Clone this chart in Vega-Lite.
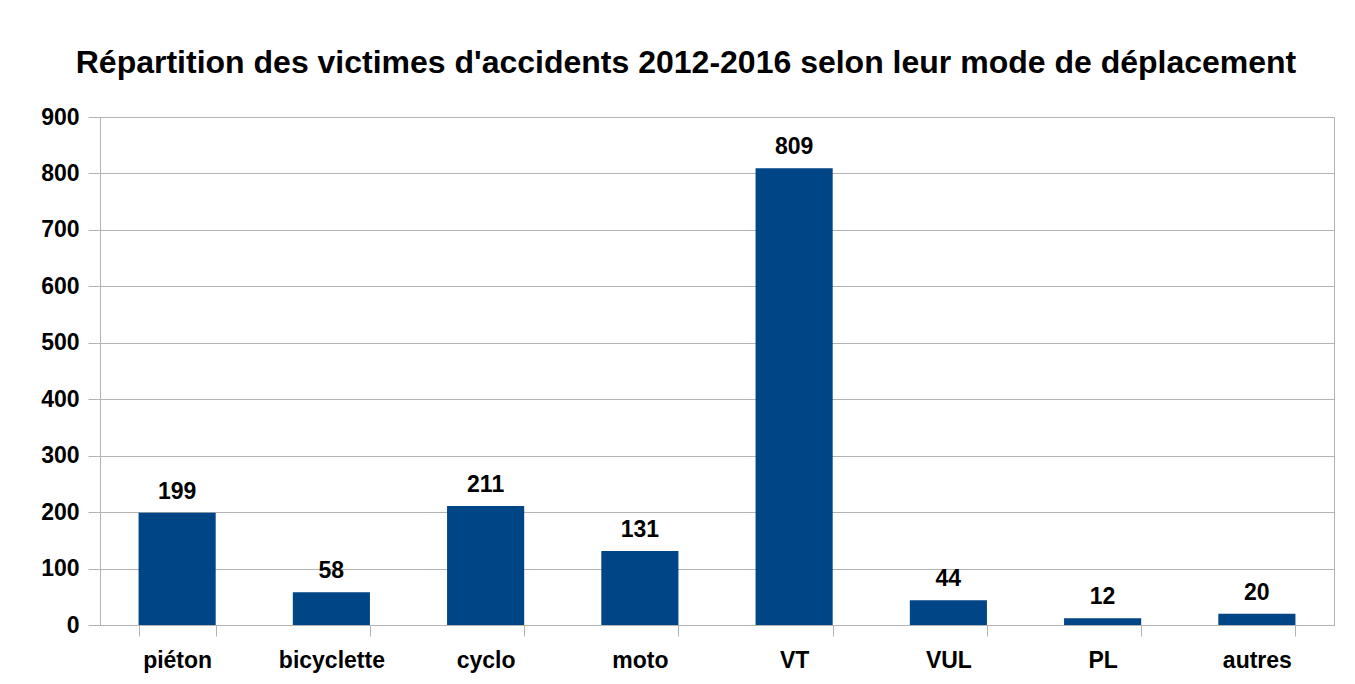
{
  "$schema": "https://vega.github.io/schema/vega-lite/v6.json",
  "autosize": {"type": "none"},
  "padding": {"left": 100, "top": 117, "right": 21, "bottom": 59},
  "width": 1234,
  "height": 508,
  "background": "white",
  "title": {
    "text": "Répartition des victimes d'accidents 2012-2016 selon leur mode de déplacement",
    "font": "Liberation Sans",
    "fontSize": 32,
    "fontWeight": "bold",
    "color": "black",
    "anchor": "middle",
    "dx": -31,
    "offset": 26
  },
  "data": {
    "values": [
      {"mode": "piéton", "victimes": 199},
      {"mode": "bicyclette", "victimes": 58},
      {"mode": "cyclo", "victimes": 211},
      {"mode": "moto", "victimes": 131},
      {"mode": "VT", "victimes": 809},
      {"mode": "VUL", "victimes": 44},
      {"mode": "PL", "victimes": 12},
      {"mode": "autres", "victimes": 20}
    ]
  },
  "encoding": {
    "x": {
      "field": "mode",
      "type": "nominal",
      "sort": null,
      "scale": {"paddingInner": 0.5, "paddingOuter": 0.25},
      "axis": {
        "title": null,
        "labelAngle": 0,
        "tickBand": "extent",
        "tickSize": 11,
        "tickColor": "#b3b3b3",
        "domainColor": "#b3b3b3",
        "labelFont": "Liberation Sans",
        "labelFontSize": 23,
        "labelFontWeight": "bold",
        "labelColor": "black",
        "labelPadding": 13
      }
    },
    "y": {
      "field": "victimes",
      "type": "quantitative",
      "scale": {"domain": [0, 900]},
      "axis": {
        "title": null,
        "values": [0, 100, 200, 300, 400, 500, 600, 700, 800, 900],
        "tickSize": 12,
        "tickColor": "#b3b3b3",
        "domainColor": "#b3b3b3",
        "gridColor": "#b3b3b3",
        "labelFont": "Liberation Sans",
        "labelFontSize": 23,
        "labelFontWeight": "bold",
        "labelColor": "black",
        "labelPadding": 9
      }
    }
  },
  "layer": [
    {"mark": {"type": "bar", "color": "#004586"}},
    {
      "mark": {
        "type": "text",
        "font": "Liberation Sans",
        "fontSize": 23,
        "fontWeight": "bold",
        "color": "black",
        "baseline": "alphabetic",
        "dy": -14
      },
      "encoding": {"text": {"field": "victimes", "type": "quantitative"}}
    }
  ],
  "config": {
    "view": {"stroke": "#b3b3b3"}
  }
}
